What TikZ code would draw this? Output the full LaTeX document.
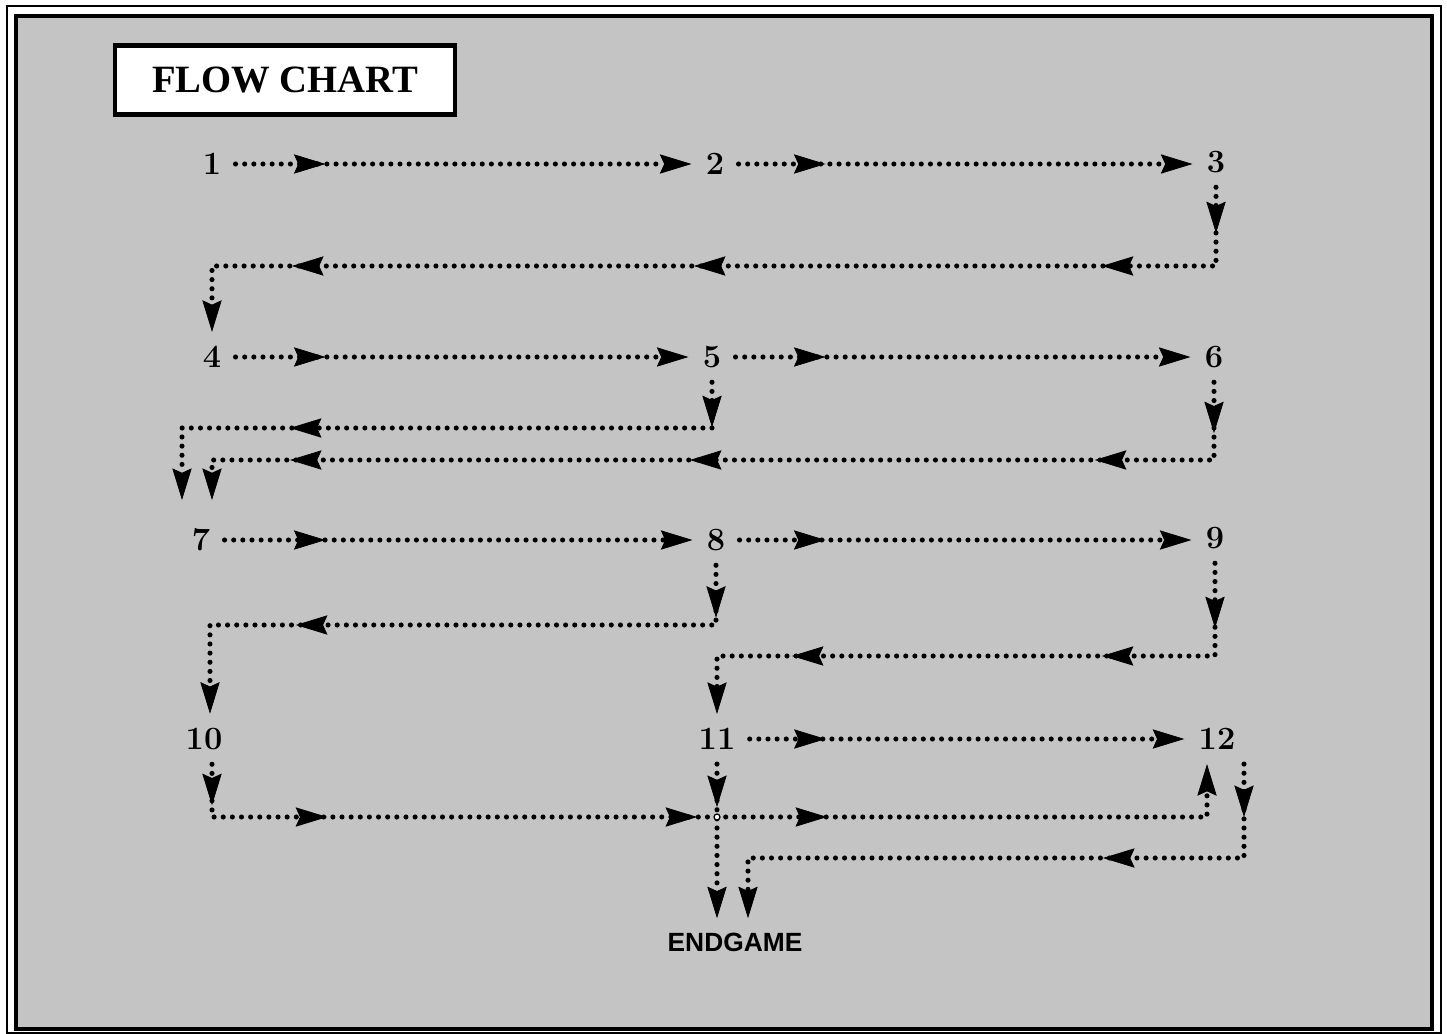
\documentclass[tikz,border=0pt]{standalone}
\usepackage{fontspec}
\newfontfamily\titlefont{Liberation Serif}
\newfontfamily\egfont{Liberation Sans}
\usetikzlibrary{arrows.meta,decorations.markings}
\definecolor{bg}{HTML}{C4C4C4}
\tikzset{
  hd/.tip={Stealth[length=18pt,width=11pt,inset=2.5pt,line width=0.4pt]},
  flow/.style={line width=2.9pt,line cap=round,dash pattern=on 0pt off 5.2pt,-{hd}},
  ma/.style={postaction={decorate,decoration={markings,mark=at position #1 with {\arrow{hd}}}}},
  num/.style={font=\fontsize{18.5}{20}\selectfont\bfseries,inner sep=8pt},
  titlebox/.style={draw,line width=2.4pt,fill=white,minimum width=6.8cm,minimum height=1.38cm,
    font=\titlefont\bfseries\fontsize{22}{24}\selectfont},
  endbox/.style={font=\egfont\bfseries\fontsize{15}{18}\selectfont,inner sep=8pt},
}
\begin{document}
\begin{tikzpicture}[x=0.02cm,y=-0.02cm]
\useasboundingbox (0,0) rectangle (1447,1034);
\fill[white] (0,0) rectangle (1447,1034);
\draw[line width=0.7pt] (7,6) rectangle (1441,1033);
\draw[line width=2.2pt,fill=bg] (16,16) rectangle (1432,1029);
\node[titlebox] (title) at (285,80) {FLOW CHART};
% numbers
\node[num] (n1) at (212,164) {1};
\node[num] (n2) at (715,164) {2};
\node[num] (n3) at (1216,162) {3};
\node[num] (n4) at (212,357) {4};
\node[num] (n5) at (712,357) {5};
\node[num] (n6) at (1214,357) {6};
\node[num] (n7) at (201,540) {7};
\node[num] (n8) at (716,540) {8};
\node[num] (n9) at (1215,538) {9};
\node[num] (n10) at (204,739) {10};
\node[num] (n11) at (717,739) {11};
\node[num] (n12) at (1217,739) {12};
\node[endbox] (eg) at (735,942) {ENDGAME};
% corner coordinates
\coordinate (c3) at (1216,266);
\coordinate (c5b) at (182,428);
\coordinate (e7a) at (182,500);
\coordinate (c6) at (212,460);
\coordinate (e7b) at (212,500);
\coordinate (c8) at (210,625);
\coordinate (c9) at (717,656);
\coordinate (c10b) at (212,817);
\coordinate (c12a) at (1207,817);
\coordinate (c12b) at (1244,858);
\coordinate (c12c) at (748,858);
% row 1
\draw[flow,ma=1.8cm] (n1.east) -- (n1.east -| n2.west);
\draw[flow,ma=1.74cm] (n2.east) -- (n2.east -| n3.west);
\draw[flow,ma=0.92cm,ma=3.86cm,ma=12.02cm,ma=20.06cm]
  (n3.south) -- (c3) -- (c3 -| n4.north) -- (n4.north);
% row 2
\draw[flow,ma=1.8cm] (n4.east) -- (n4.east -| n5.west);
\draw[flow,ma=1.8cm] (n5.east) -- (n5.east -| n6.west);
\draw[flow,ma=0.9cm,ma=9.36cm] (n5.south) -- (n5.south |- c5b) -- (c5b) -- (e7a);
\draw[flow,ma=1.02cm,ma=3.94cm,ma=12.04cm,ma=20.04cm]
  (n6.south) -- (n6.south |- c6) -- (c6) -- (e7b);
% row 3
\draw[flow,ma=2.02cm] (n7.east) -- (n7.east -| n8.west);
\draw[flow,ma=1.72cm] (n8.east) -- (n8.east -| n9.west);
\draw[flow,ma=1.05cm,ma=9.6cm] (n8.south) -- (n8.south |- c8) -- (c8) -- (c8 |- n10.north);
\draw[flow,ma=1.3cm,ma=4.12cm,ma=10.32cm] (n9.south) -- (n9.south |- c9) -- (c9) -- (n11.north);
% row 4
\draw[flow,ma=1.52cm] (n11.east) -- (n11.east -| n12.west);
\draw[flow,ma=0.82cm,ma=3.36cm,ma=10.76cm,ma=13.36cm]
  (n10.south -| c10b) -- (c10b) -- (c12a) -- (c12a |- n12.south);
\draw[flow,ma=0.86cm] (n11.south) -- (n11.south |- eg.north);
\draw[flow,ma=1.06cm,ma=4.7cm] (n12.south -| c12b) -- (c12b) -- (c12c) -- (c12c |- eg.north);
\node[circle,draw,line width=0.7pt,fill=white,inner sep=1.2pt] (jn) at (c10b -| n11) {};
\end{tikzpicture}
\end{document}
